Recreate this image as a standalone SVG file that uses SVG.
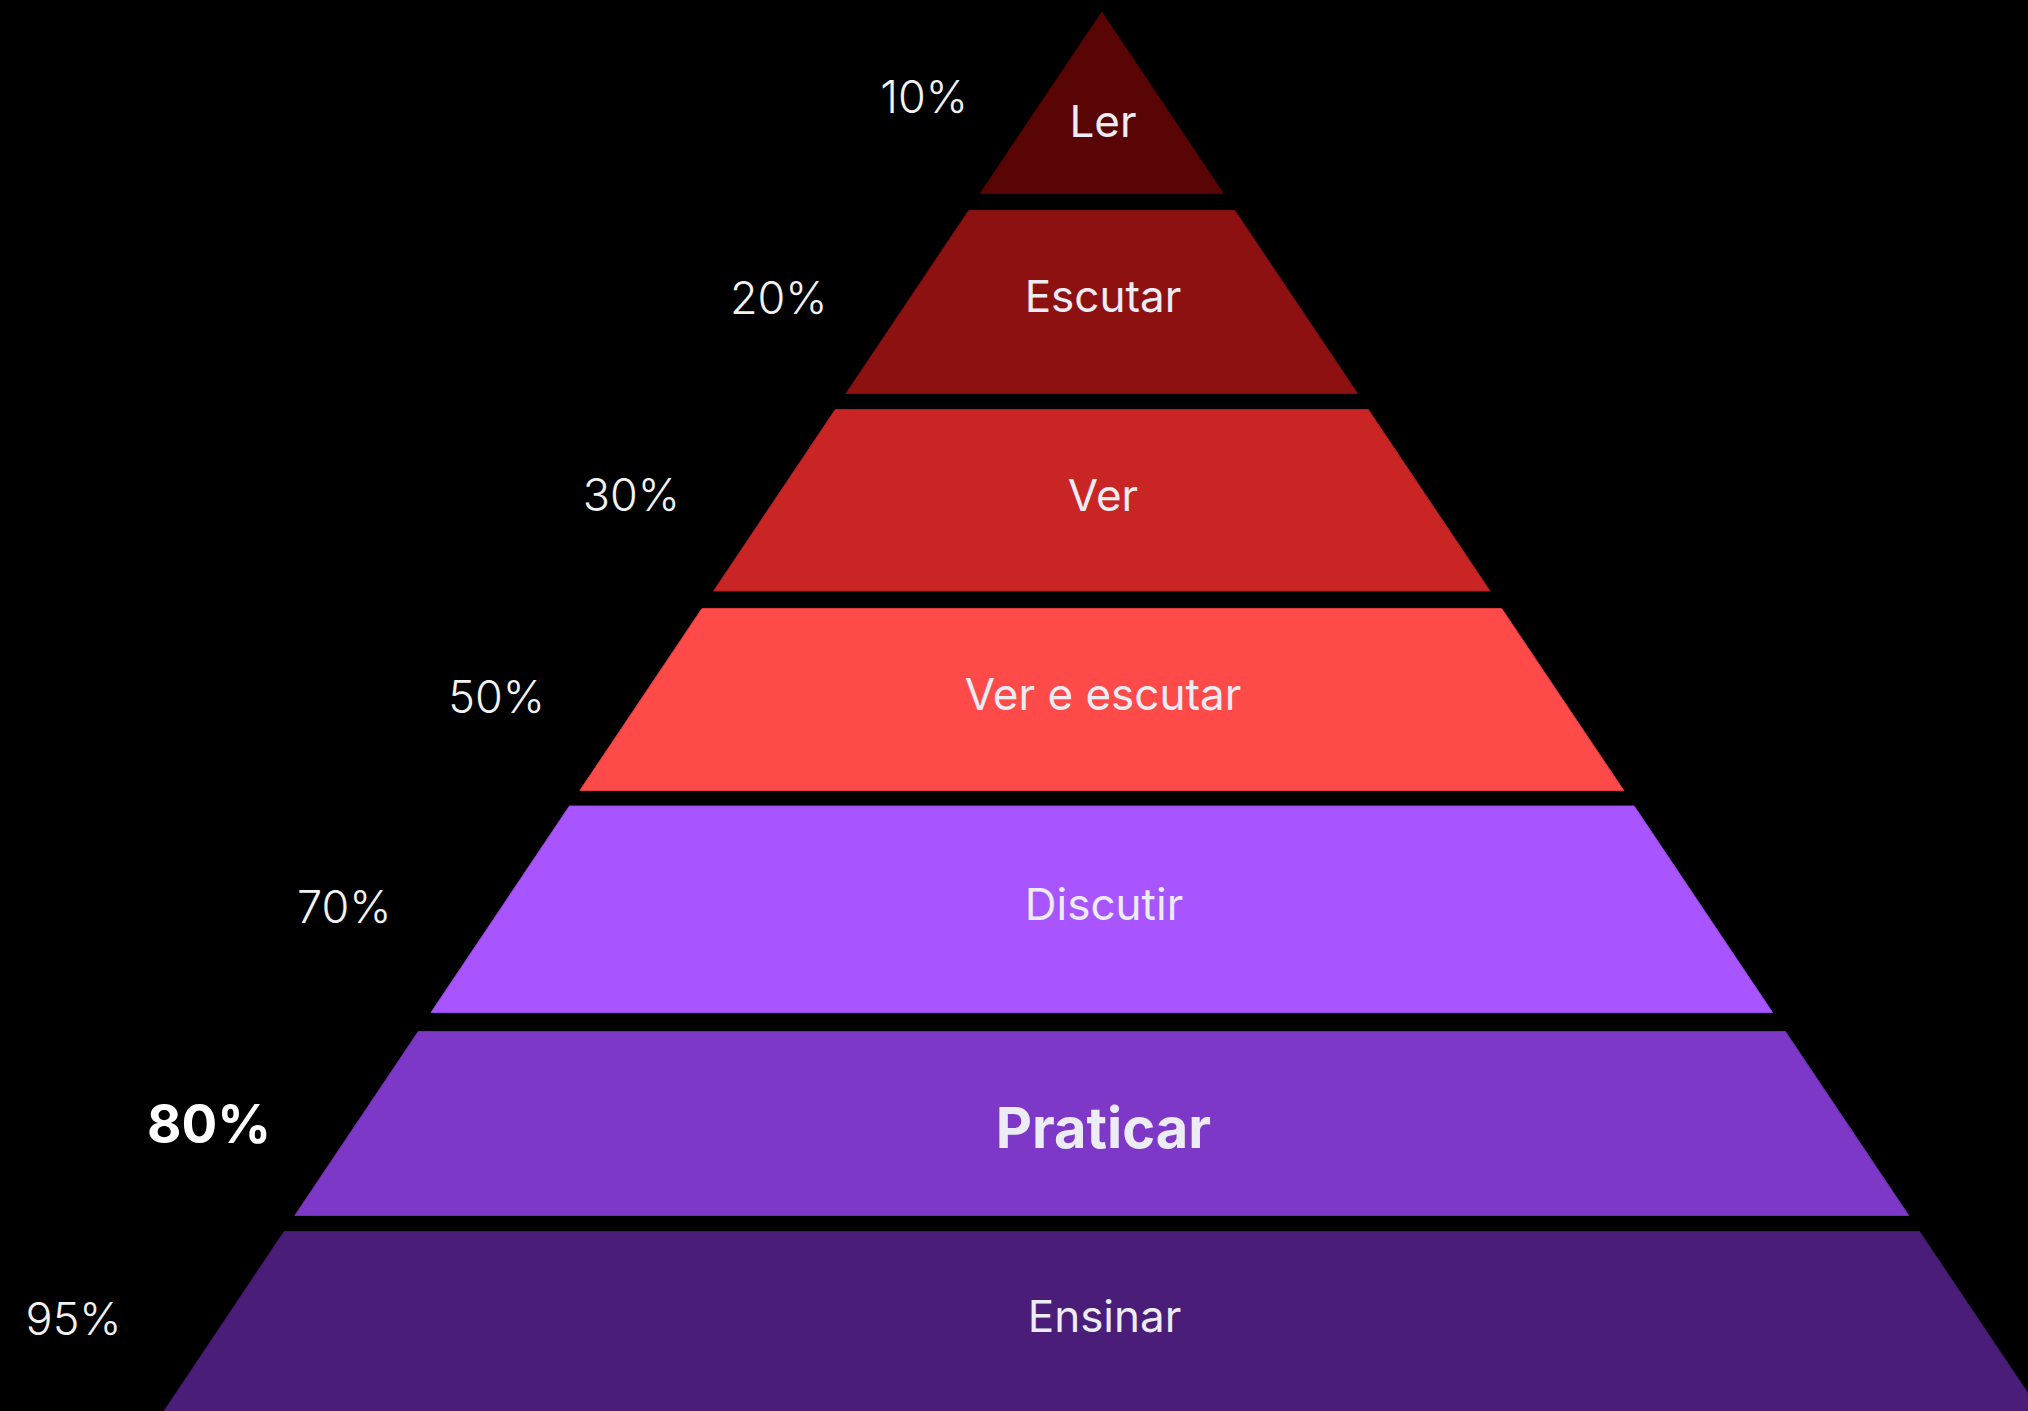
<svg xmlns="http://www.w3.org/2000/svg" width="2028" height="1411" viewBox="0 0 2028 1411">
<style>
.layer{stroke-width:1}
.lt{font-family:Inter,"Noto Sans","Liberation Sans",sans-serif;font-size:44px;fill:#ececf4;text-anchor:middle}
.pct{font-family:Inter,"Noto Sans","Liberation Sans",sans-serif;font-size:45px;font-weight:300;fill:#f2f2f2;text-anchor:end}
.bold{font-weight:700;font-size:56px;fill:#ffffff}
.pct.bold{font-size:53px}
</style>
<rect x="0" y="0" width="2028" height="1411" fill="#000000"/>
<g id="layer-ler">
<polygon class="layer" points="1101.8,12 1223.5,193.5 980.1,193.5" fill="#5a0505" stroke="#4a0303"/>
<text class="lt" x="1103" y="136.7">Ler</text>
<text class="pct" x="968" y="113.3">10%</text>
</g>
<g id="layer-escutar">
<polygon class="layer" points="968.7,210.5 1234.9,210.5 1357.6,393.5 846,393.5" fill="#8e1112" stroke="#7a0d0e"/>
<text class="lt" x="1103" y="311.7">Escutar</text>
<text class="pct" x="827.5" y="314">20%</text>
</g>
<g id="layer-ver">
<polygon class="layer" points="835.3,409.5 1368.3,409.5 1490,591 713.6,591" fill="#c92525" stroke="#b01f1f"/>
<text class="lt" x="1103" y="511">Ver</text>
<text class="pct" x="680" y="511">30%</text>
</g>
<g id="layer-ver-e-escutar">
<polygon class="layer" points="701.9,608.5 1501.7,608.5 1623.8,790.5 579.8,790.5" fill="#ff4a4a" stroke="#dd3a3a"/>
<text class="lt" x="1103" y="710">Ver e escutar</text>
<text class="pct" x="545" y="713.3">50%</text>
</g>
<g id="layer-discutir">
<polygon class="layer" points="569.4,806 1634.2,806 1772.6,1012.5 431,1012.5" fill="#a855ff" stroke="#9448e6"/>
<text class="lt" x="1104" y="920">Discutir</text>
<text class="pct" x="391.5" y="923.3">70%</text>
</g>
<g id="layer-praticar">
<polygon class="layer" points="418.2,1031.5 1785.4,1031.5 1908.8,1215.5 294.8,1215.5" fill="#7e38c7" stroke="#6c2fb0"/>
<text class="lt bold" x="1103.3" y="1147.7" style="fill:#ececf4">Praticar</text>
<text class="pct bold" x="271" y="1143.3">80%</text>
</g>
<g id="layer-ensinar">
<polygon class="layer" points="284.1,1231.5 1919.5,1231.5 2046,1420 158,1420" fill="#4a1d78" stroke="#3f1868"/>
<text class="lt" x="1104.5" y="1331.7">Ensinar</text>
<text class="pct" x="121.5" y="1335">95%</text>
</g>
<g id="connectors"></g>
</svg>
